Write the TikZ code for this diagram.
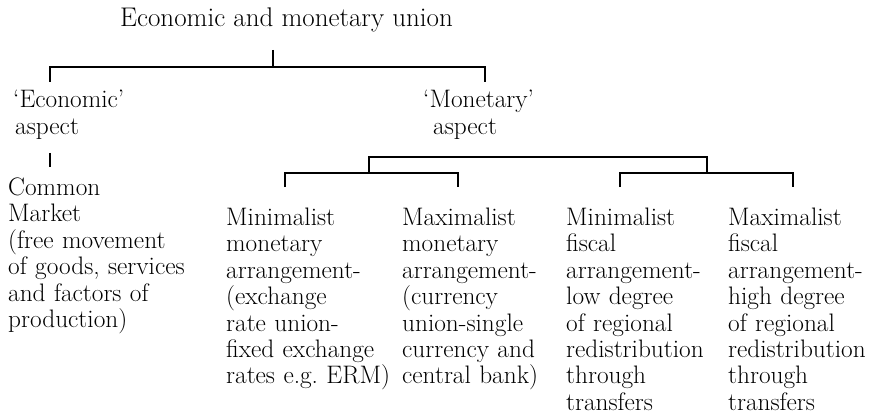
\documentclass[tikz,border=0pt]{standalone}
\begin{document}
\begin{tikzpicture}[x=1pt,y=-1pt,
  lbl/.style={anchor=base west, inner sep=0pt, align=left, text width=#1,
              font=\fontsize{25.3}{26.5}\selectfont},
  conn/.style={line width=1.2pt, black}]
\useasboundingbox (0,0) rectangle (873,417);

% text
\node[anchor=base, inner sep=0pt, font=\fontsize{27}{28}\selectfont] (emu) at (286.5,27) {Economic and monetary union};
\node[lbl=150pt] (econ) at (13,108) {‘Economic’\\\hspace*{2pt}aspect};
\node[lbl=150pt] (mon) at (423,108) {‘Monetary’\\\hspace*{10pt}aspect};
\node[lbl=210pt] (common) at (8,195) {Common\\Market\\(free movement\\of goods, services\\and factors of\\production)};
\node[lbl=176pt] (minmon) at (226,225) {Minimalist\\monetary\\arrangement-\\(exchange\\rate union-\\fixed exchange\\rates e.g.\ ERM)};
\node[lbl=164pt] (maxmon) at (402,225) {Maximalist\\monetary\\arrangement-\\(currency\\union-single\\currency and\\central bank)};
\node[lbl=162pt] (minfis) at (566,225) {Minimalist\\fiscal\\arrangement-\\low degree\\of regional\\redistribution\\through\\transfers};
\node[lbl=145pt] (maxfis) at (728,225) {Maximalist\\fiscal\\arrangement-\\high degree\\of regional\\redistribution\\through\\transfers};

% connector points
\coordinate (stemtop) at (273,50);
\coordinate (hub1) at (273,67);
\coordinate (tEcon) at (50,82);
\coordinate (tMon) at (485,82);
\coordinate (e1) at (50,153);
\coordinate (e2) at (50,167);
\coordinate (mrow) at (0,157);
\coordinate (mbL) at (369,173);
\coordinate (mbR) at (707,173);
\coordinate (g1a) at (285,187);
\coordinate (g1b) at (458,187);
\coordinate (g2a) at (620,187);
\coordinate (g2b) at (793,187);

% connectors
\draw[conn] (stemtop) -- (hub1);
\draw[conn] (tEcon) -- (tEcon |- hub1) -- (tMon |- hub1) -- (tMon);
\draw[conn] (e1) -- (e2);
\draw[conn] (mbL) -- (mbL |- mrow) -- (mbR |- mrow) -- (mbR);
\draw[conn] (g1a) -- (g1a |- mbL) -- (g1b |- mbL) -- (g1b);
\draw[conn] (g2a) -- (g2a |- mbR) -- (g2b |- mbR) -- (g2b);
\end{tikzpicture}
\end{document}
